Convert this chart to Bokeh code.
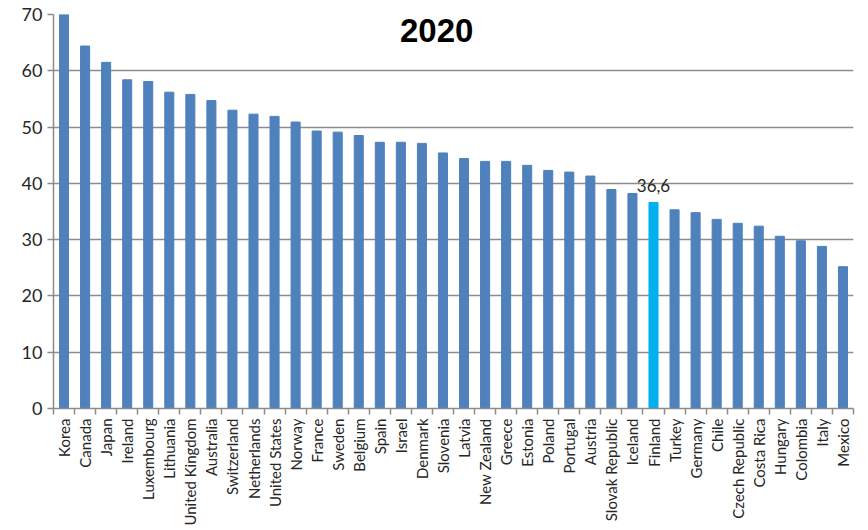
import math
from bokeh.plotting import figure
from bokeh.models import Range1d, FixedTicker, ColumnDataSource, Label
from bokeh.embed import file_html
from bokeh.resources import INLINE

countries = ["Korea", "Canada", "Japan", "Ireland", "Luxembourg", "Lithuania",
             "United Kingdom", "Australia", "Switzerland", "Netherlands",
             "United States", "Norway", "France", "Sweden", "Belgium", "Spain",
             "Israel", "Denmark", "Slovenia", "Latvia", "New Zealand", "Greece",
             "Estonia", "Poland", "Portugal", "Austria", "Slovak Republic",
             "Iceland", "Finland", "Turkey", "Germany", "Chile", "Czech Republic",
             "Costa Rica", "Hungary", "Colombia", "Italy", "Mexico"]
values = [70.0, 64.4, 61.5, 58.4, 58.1, 56.2, 55.8, 54.7, 53.0, 52.3,
          51.9, 50.9, 49.3, 49.1, 48.5, 47.3, 47.3, 47.1, 45.4, 44.4,
          43.9, 43.9, 43.2, 42.3, 42.0, 41.3, 38.9, 38.2, 36.6, 35.3,
          34.8, 33.6, 32.9, 32.4, 30.6, 29.8, 28.8, 25.2]
highlight = "Finland"
highlight_label = "36,6"
title_text = "2020"
y_ticks = [0, 10, 20, 30, 40, 50, 60, 70]

BASE = "#4F81BD"
HI = "#00B0F0"
GRID = "#8C8C8C"

n = len(countries)
xs = list(range(n))
colors = [HI if c == highlight else BASE for c in countries]
src = ColumnDataSource(dict(x=xs, top=values, color=colors, name=countries))

p = figure(width=862, height=528, output_backend="svg", toolbar_location=None,
           x_range=Range1d(-0.5, n - 0.5), y_range=Range1d(0, 70),
           min_border_left=53, min_border_right=9, min_border_top=14,
           min_border_bottom=10)
p.outline_line_color = None
p.background_fill_color = "white"
p.border_fill_color = "white"

p.vbar(x="x", top="top", width=0.43, color="color", source=src)

# x axis: labels at category centres, tick marks at category boundaries
p.xaxis.ticker = FixedTicker(ticks=xs, minor_ticks=[i - 0.5 for i in range(n + 1)])
p.xaxis.major_label_overrides = {i: c for i, c in enumerate(countries)}
p.xaxis.major_label_orientation = math.pi / 2
p.xaxis.major_tick_line_color = None
p.xaxis.minor_tick_line_color = GRID
p.xaxis.minor_tick_out = 6
p.xaxis.minor_tick_in = 0
p.xaxis.minor_tick_line_width = 1.5
p.xaxis.axis_line_color = GRID
p.xaxis.axis_line_width = 1.5
p.xaxis.major_label_text_font = "Lato"
p.xaxis.major_label_text_font_size = "15px"
p.xaxis.major_label_text_color = "#262626"
p.xaxis.major_label_standoff = 4
p.xgrid.grid_line_color = None

p.yaxis.ticker = FixedTicker(ticks=y_ticks)
p.yaxis.axis_line_color = GRID
p.yaxis.axis_line_width = 1.5
p.yaxis.major_tick_line_color = GRID
p.yaxis.major_tick_line_width = 1.5
p.yaxis.major_tick_out = 6
p.yaxis.major_tick_in = 0
p.yaxis.minor_tick_line_color = None
p.yaxis.major_label_text_font = "Lato"
p.yaxis.major_label_text_font_size = "18px"
p.yaxis.major_label_text_color = "#262626"
p.yaxis.major_label_standoff = 5
p.ygrid.grid_line_color = GRID
p.ygrid.grid_line_width = 1.5
p.ygrid.ticker = FixedTicker(ticks=y_ticks)

hi_idx = countries.index(highlight)
p.add_layout(Label(x=hi_idx, y=values[hi_idx], text=highlight_label,
                   text_align="center", text_baseline="bottom", y_offset=10,
                   text_font="Lato", text_font_size="17px", text_color="#262626"))

p.add_layout(Label(x=17.7, y=67.2, text=title_text,
                   text_align="center", text_baseline="middle",
                   text_font="Liberation Sans", text_font_style="bold",
                   text_font_size="33px", text_color="black"))

open("out.html", "w").write(file_html(p, INLINE))
